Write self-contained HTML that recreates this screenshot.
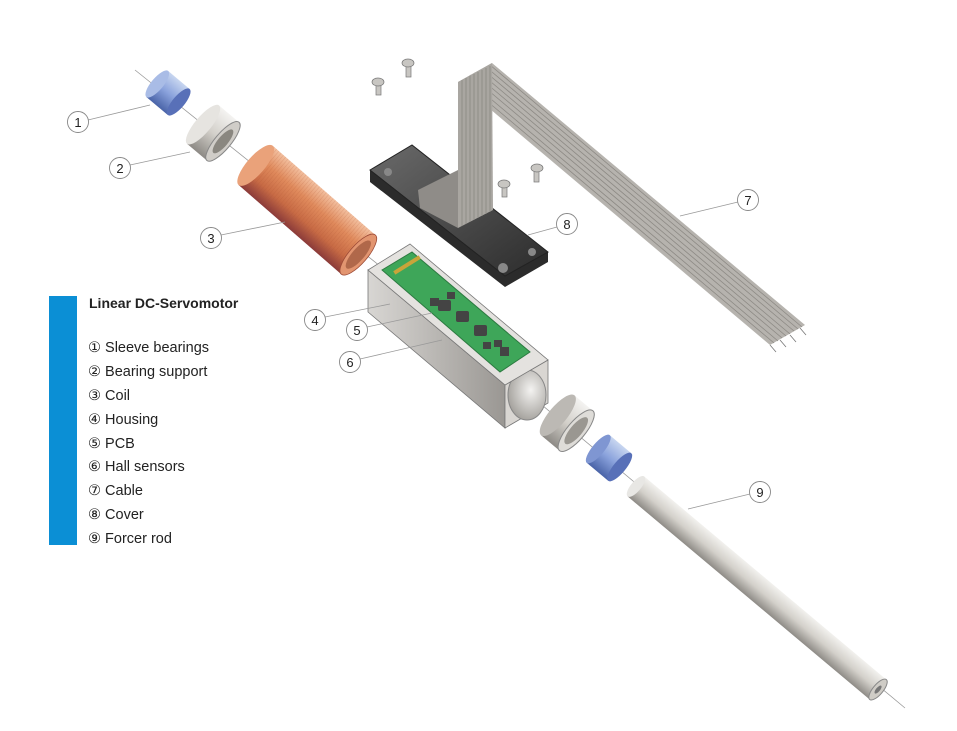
<!DOCTYPE html>
<html><head><meta charset="utf-8"><style>
html,body{margin:0;padding:0;background:#fff;}
svg{display:block;}
text{font-family:"Liberation Sans","DejaVu Sans",sans-serif;}
</style></head><body>
<svg width="957" height="731" viewBox="0 0 957 731" xmlns="http://www.w3.org/2000/svg">
<defs>
<linearGradient id="blue" x1="0" y1="0" x2="0" y2="1"><stop offset="0" stop-color="#c8d6f0"/><stop offset="0.5" stop-color="#8aa2dc"/><stop offset="1" stop-color="#4a64a8"/></linearGradient>
<linearGradient id="silver" x1="0" y1="0" x2="0" y2="1"><stop offset="0" stop-color="#f4f3f1"/><stop offset="0.5" stop-color="#d3d0ca"/><stop offset="1" stop-color="#8d8a85"/></linearGradient>
<linearGradient id="copper" x1="0" y1="0" x2="0" y2="1"><stop offset="0" stop-color="#f3c0a0"/><stop offset="0.35" stop-color="#e08a5c"/><stop offset="0.7" stop-color="#c86b45"/><stop offset="1" stop-color="#8a3a3a"/></linearGradient>
<linearGradient id="rod" x1="0" y1="0" x2="0" y2="1"><stop offset="0" stop-color="#f2f1ee"/><stop offset="0.5" stop-color="#d3d0ca"/><stop offset="1" stop-color="#8e8b86"/></linearGradient>
<linearGradient id="box" x1="0" y1="0" x2="1" y2="0"><stop offset="0" stop-color="#d8d6d3"/><stop offset="1" stop-color="#9a9793"/></linearGradient>
<linearGradient id="dark" x1="0" y1="0" x2="1" y2="1"><stop offset="0" stop-color="#6a6a6a"/><stop offset="1" stop-color="#2c2c2c"/></linearGradient>
<radialGradient id="hole" cx="0.6" cy="0.4" r="0.7"><stop offset="0" stop-color="#f4f3f1"/><stop offset="1" stop-color="#9c9994"/></radialGradient>
<pattern id="coilp" width="3" height="10" patternUnits="userSpaceOnUse"><line x1="0" y1="0" x2="0" y2="10" stroke="#a7502a" stroke-width="0.6" stroke-opacity="0.4"/></pattern>
</defs>

<!-- legend -->
<rect x="49" y="296" width="28" height="249" fill="#0b8fd5"/>
<text x="89" y="308" font-size="14" font-weight="bold" fill="#222">Linear DC-Servomotor</text>
<g font-size="14.5" fill="#222">
<text x="88" y="352">① Sleeve bearings</text>
<text x="88" y="376">② Bearing support</text>
<text x="88" y="400">③ Coil</text>
<text x="88" y="424">④ Housing</text>
<text x="88" y="448">⑤ PCB</text>
<text x="88" y="471">⑥ Hall sensors</text>
<text x="88" y="495">⑦ Cable</text>
<text x="88" y="519">⑧ Cover</text>
<text x="88" y="543">⑨ Forcer rod</text>
</g>

<!-- axis lines -->
<line x1="135" y1="70" x2="385" y2="270" stroke="#999" stroke-width="0.8"/>
<line x1="500" y1="370" x2="905" y2="708" stroke="#999" stroke-width="0.8"/>

<!-- sleeve bearing 1 -->
<g transform="translate(168,93) rotate(40)">
<rect x="-14" y="-17" width="28" height="34" fill="url(#blue)"/>
<ellipse cx="-14" cy="0" rx="6" ry="17" fill="#a9bce6"/>
<ellipse cx="14" cy="0" rx="6" ry="17" fill="#5870b8"/>
</g>
<!-- bearing support 2 -->
<g transform="translate(213,133) rotate(40)">
<rect x="-13" y="-25" width="26" height="50" fill="url(#silver)"/>
<ellipse cx="-13" cy="0" rx="8" ry="25" fill="#e6e4e0"/>
<ellipse cx="13" cy="0" rx="8" ry="25" fill="#d0cdc8" stroke="#888" stroke-width="1"/>
<ellipse cx="13" cy="0" rx="5" ry="15" fill="#8a8780"/>
</g>
<!-- coil 3 -->
<g transform="translate(307,210) rotate(41)">
<rect x="-68" y="-26" width="136" height="52" fill="url(#copper)"/>
<rect x="-68" y="-26" width="136" height="52" fill="url(#coilp)"/>
<ellipse cx="-68" cy="0" rx="9" ry="26" fill="#eaa27a"/>
<ellipse cx="68" cy="0" rx="9" ry="26" fill="#e29570" stroke="#9c4a36" stroke-width="0.8"/>
<ellipse cx="68" cy="0" rx="6" ry="18" fill="#b0684a"/>
</g>

<!-- housing 4 -->
<polygon points="368,270 368,312 505,428 505,385" fill="url(#box)" stroke="#777" stroke-width="0.8"/>
<polygon points="505,385 548,360 548,403 505,428" fill="#d9d6d2" stroke="#777" stroke-width="0.8"/>
<ellipse cx="527" cy="395" rx="19" ry="25" fill="url(#hole)" stroke="#888"/>
<polygon points="368,270 410,244 548,360 505,385" fill="#e4e2df" stroke="#777" stroke-width="0.8"/>
<!-- PCB 5 -->
<polygon points="382,270 412,252 530,352 500,372" fill="#3ea659" stroke="#2c7a40" stroke-width="1"/>
<g fill="#c9a43a"><rect x="392" y="263" width="30" height="4" transform="rotate(-32 407 265)"/></g>
<g fill="#444">
<rect x="430" y="298" width="9" height="8"/><rect x="447" y="292" width="8" height="7"/>
<rect x="438" y="300" width="13" height="11" rx="2"/>
<rect x="456" y="311" width="13" height="11" rx="2"/>
<rect x="474" y="325" width="13" height="11" rx="2"/>
<rect x="483" y="342" width="8" height="7"/><rect x="494" y="340" width="8" height="7"/>
<rect x="500" y="347" width="9" height="9"/>
</g>

<!-- cover 8 -->
<polygon points="370,170 370,182 505,287 548,262 548,252 505,276" fill="#2b2b2b"/>
<polygon points="370,170 412,145 548,252 505,276" fill="url(#dark)" stroke="#222"/>
<circle cx="388" cy="172" r="4" fill="#888"/><circle cx="503" cy="268" r="5" fill="#888"/><circle cx="532" cy="252" r="4" fill="#888"/>
<!-- cable 7 -->
<polygon points="458,82 492,63 805,325 770,345" fill="#b6b3ae"/>
<g stroke="#8d8a85" stroke-width="0.8">
<line x1="462" y1="80" x2="774" y2="343"/><line x1="466" y1="78" x2="778" y2="341"/><line x1="470" y1="75" x2="782" y2="338"/><line x1="474" y1="73" x2="786" y2="336"/><line x1="478" y1="71" x2="790" y2="334"/><line x1="482" y1="69" x2="794" y2="331"/><line x1="486" y1="67" x2="798" y2="329"/><line x1="490" y1="65" x2="802" y2="327"/>
</g>
<polygon points="458,82 492,63 493,210 458,228" fill="#a9a6a1"/>
<g stroke="#8a8782" stroke-width="0.8">
<line x1="462" y1="80" x2="462" y2="226"/><line x1="466" y1="78" x2="466" y2="224"/><line x1="470" y1="76" x2="470" y2="222"/><line x1="474" y1="74" x2="474" y2="220"/><line x1="478" y1="72" x2="478" y2="218"/><line x1="482" y1="70" x2="482" y2="216"/><line x1="486" y1="68" x2="486" y2="214"/><line x1="490" y1="66" x2="490" y2="212"/>
</g>
<polygon points="418,190 458,170 458,228 420,208" fill="#8f8c88"/>
<g stroke="#777" stroke-width="0.8"><line x1="770" y1="345" x2="776" y2="352"/><line x1="780" y1="340" x2="786" y2="347"/><line x1="790" y1="335" x2="796" y2="342"/><line x1="800" y1="328" x2="806" y2="335"/></g>

<!-- screws -->
<g fill="#c8c6c2" stroke="#777" stroke-width="0.7">
<rect x="376" y="83" width="5" height="12"/><ellipse cx="378" cy="82" rx="6" ry="4"/>
<rect x="406" y="65" width="5" height="12"/><ellipse cx="408" cy="63" rx="6" ry="4"/>
<rect x="502" y="185" width="5" height="12"/><ellipse cx="504" cy="184" rx="6" ry="4"/>
<rect x="534" y="170" width="5" height="12"/><ellipse cx="537" cy="168" rx="6" ry="4"/>
</g>

<!-- bearing support 2 (lower) -->
<g transform="translate(567,423) rotate(40)">
<rect x="-12" y="-26" width="24" height="52" fill="url(#silver)"/>
<ellipse cx="-12" cy="0" rx="9" ry="26" fill="#bcb9b4"/>
<ellipse cx="12" cy="0" rx="9" ry="26" fill="#dedcd8" stroke="#888"/>
<ellipse cx="12" cy="0" rx="6" ry="17" fill="#9a9791"/>
</g>
<!-- sleeve bearing lower -->
<g transform="translate(609,458) rotate(40)">
<rect x="-14" y="-18" width="28" height="36" fill="url(#blue)"/>
<ellipse cx="-14" cy="0" rx="6" ry="18" fill="#7f96d2"/>
<ellipse cx="14" cy="0" rx="6" ry="18" fill="#5870b8"/>
</g>
<!-- rod 9 -->
<g transform="translate(757,588) rotate(40)">
<rect x="-158" y="-13" width="316" height="26" fill="url(#rod)"/>
<ellipse cx="-158" cy="0" rx="5" ry="13" fill="#e8e7e4"/>
<ellipse cx="158" cy="0" rx="5" ry="13" fill="#cfccc6" stroke="#888"/>
<ellipse cx="158" cy="0" rx="2" ry="5" fill="#777"/>
</g>

<!-- callouts -->
<g stroke="#999" stroke-width="0.8" fill="none">
<line x1="88" y1="120" x2="150" y2="105"/>
<line x1="130" y1="165" x2="190" y2="152"/>
<line x1="221" y1="235" x2="285" y2="222"/>
<line x1="325" y1="317" x2="390" y2="304"/>
<line x1="367" y1="327" x2="432" y2="313"/>
<line x1="360" y1="359" x2="442" y2="340"/>
<line x1="738" y1="202" x2="680" y2="216"/>
<line x1="557" y1="227" x2="528" y2="235"/>
<line x1="750" y1="494" x2="688" y2="509"/>
</g>
<g fill="#fff" stroke="#888" stroke-width="0.9">
<circle cx="78" cy="122" r="10.5"/><circle cx="120" cy="168" r="10.5"/><circle cx="211" cy="238" r="10.5"/>
<circle cx="315" cy="320" r="10.5"/><circle cx="357" cy="330" r="10.5"/><circle cx="350" cy="362" r="10.5"/>
<circle cx="748" cy="200" r="10.5"/><circle cx="567" cy="224" r="10.5"/><circle cx="760" cy="492" r="10.5"/>
</g>
<g font-size="13" fill="#222" text-anchor="middle">
<text x="78" y="127">1</text><text x="120" y="173">2</text><text x="211" y="243">3</text>
<text x="315" y="325">4</text><text x="357" y="335">5</text><text x="350" y="367">6</text>
<text x="748" y="205">7</text><text x="567" y="229">8</text><text x="760" y="497">9</text>
</g>
</svg>
</body></html>
